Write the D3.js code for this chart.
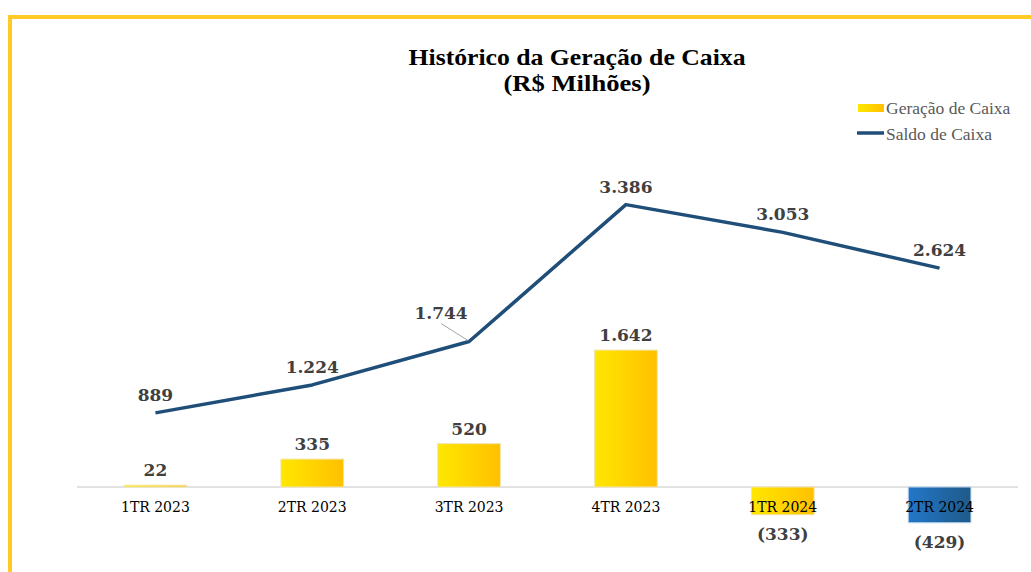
<!DOCTYPE html>
<html><head><meta charset="utf-8">
<script src="https://cdn.jsdelivr.net/npm/d3@7"></script>
<style>html,body{margin:0;padding:0;background:#fff;}svg{display:block;}</style>
</head><body>
<svg id="chart" width="1031" height="572"></svg>
<script>
const categories = ["1TR 2023","2TR 2023","3TR 2023","4TR 2023","1TR 2024","2TR 2024"];
const geracao = [22, 335, 520, 1642, -333, -429];
const saldo = [889, 1224, 1744, 3386, 3053, 2624];
const geracaoLabels = ["22","335","520","1.642","(333)","(429)"];
const saldoLabels = ["889","1.224","1.744","3.386","3.053","2.624"];
const titleLines = ["Histórico da Geração de Caixa","(R$ Milhões)"];
const legendNames = ["Geração de Caixa","Saldo de Caixa"];

const svg = d3.select("#chart");
const defs = svg.append("defs");
const gy = defs.append("linearGradient").attr("id","gYellow").attr("x1","0%").attr("x2","100%").attr("y1","0%").attr("y2","0%");
gy.append("stop").attr("offset","0%").attr("stop-color","#FFE700");
gy.append("stop").attr("offset","100%").attr("stop-color","#FFC000");
const gb = defs.append("linearGradient").attr("id","gBlue").attr("x1","0%").attr("x2","100%").attr("y1","0%").attr("y2","0%");
gb.append("stop").attr("offset","0%").attr("stop-color","#2277C9");
gb.append("stop").attr("offset","100%").attr("stop-color","#1F5A89");

// border
svg.append("path").attr("d","M10,572 L10,17 L1031,17").attr("fill","none").attr("stroke","#FFC926").attr("stroke-width",4);

const plotL = 77, plotR = 1018;
const x = d3.scaleBand().domain(categories).range([plotL, plotR]).paddingInner(0.6).paddingOuter(0.3);
const y = d3.scaleLinear().domain([-1000, 4500]).range([487 + 83.4, 487 - 375.3]);

// title
const titleWidths = [337, 147];
svg.selectAll("text.title").data(titleLines).join("text").attr("class","title")
  .attr("x",577).attr("y",(d,i)=>65+i*26)
  .attr("text-anchor","middle").attr("font-family","Liberation Serif, serif").attr("font-weight","bold").attr("font-size",23).attr("fill","#000")
  .attr("textLength",(d,i)=>titleWidths[i]).attr("lengthAdjust","spacingAndGlyphs")
  .text(d=>d);

// baseline
svg.append("line").attr("x1",plotL).attr("x2",plotR).attr("y1",y(0)).attr("y2",y(0)).attr("stroke","#D9D9D9").attr("stroke-width",1.5);

// bars
svg.selectAll("rect.bar").data(geracao).join("rect").attr("class","bar")
  .attr("x",(d,i)=>x(categories[i]))
  .attr("width",x.bandwidth())
  .attr("y",d=>y(Math.max(0,d)))
  .attr("height",d=>Math.abs(y(d)-y(0)))
  .attr("fill",(d,i)=>i===5?"url(#gBlue)":"url(#gYellow)")
  .attr("stroke",(d,i)=>i===5?"#BDD7EE":"#F2E6B0").attr("stroke-width",1);

// category labels
svg.selectAll("text.cat").data(categories).join("text").attr("class","cat")
  .attr("x",d=>x(d)+x.bandwidth()/2).attr("y",512)
  .attr("text-anchor","middle").attr("font-family","DejaVu Serif, serif").attr("font-size",14).attr("fill","#000")
  .text(d=>d);

// bar labels
svg.selectAll("text.blab").data(geracao).join("text").attr("class","blab")
  .attr("x",(d,i)=>x(categories[i])+x.bandwidth()/2)
  .attr("y",d=>d>=0? y(d)-9 : y(d)+25)
  .attr("text-anchor","middle").attr("font-family","DejaVu Serif, serif").attr("font-weight","bold").attr("font-size",17).attr("fill","#404040")
  .text((d,i)=>geracaoLabels[i]);

// line
const cx = i => x(categories[i]) + x.bandwidth()/2;
svg.append("path").datum(saldo)
  .attr("d", d3.line().x((d,i)=>cx(i)).y(d=>y(d)))
  .attr("fill","none").attr("stroke","#1F4E79").attr("stroke-width",3.5).attr("stroke-linejoin","round");

// leader line for 3rd label
svg.append("line").attr("x1",cx(2)-28).attr("y1",y(saldo[2])-18).attr("x2",cx(2)-1).attr("y2",y(saldo[2])-1)
  .attr("stroke","#A6A6A6").attr("stroke-width",1);

svg.selectAll("text.llab").data(saldo).join("text").attr("class","llab")
  .attr("x",(d,i)=> i===2 ? cx(i)-28 : cx(i))
  .attr("y",(d,i)=> i===2 ? y(d)-23 : y(d)-12)
  .attr("text-anchor","middle").attr("font-family","DejaVu Serif, serif").attr("font-weight","bold").attr("font-size",17).attr("fill","#404040")
  .text((d,i)=>saldoLabels[i]);

// legend
const lg = svg.append("g").attr("font-family","Liberation Serif, serif").attr("font-size",17.5).attr("fill","#595959");
lg.append("rect").attr("x",858).attr("y",104).attr("width",26).attr("height",8).attr("fill","url(#gYellow)");
lg.append("line").attr("x1",857).attr("x2",884).attr("y1",133).attr("y2",133).attr("stroke","#1F4E79").attr("stroke-width",3.5);
lg.selectAll("text").data(legendNames).join("text").attr("x",886).attr("y",(d,i)=>114+i*26).text(d=>d);
</script>
</body></html>
